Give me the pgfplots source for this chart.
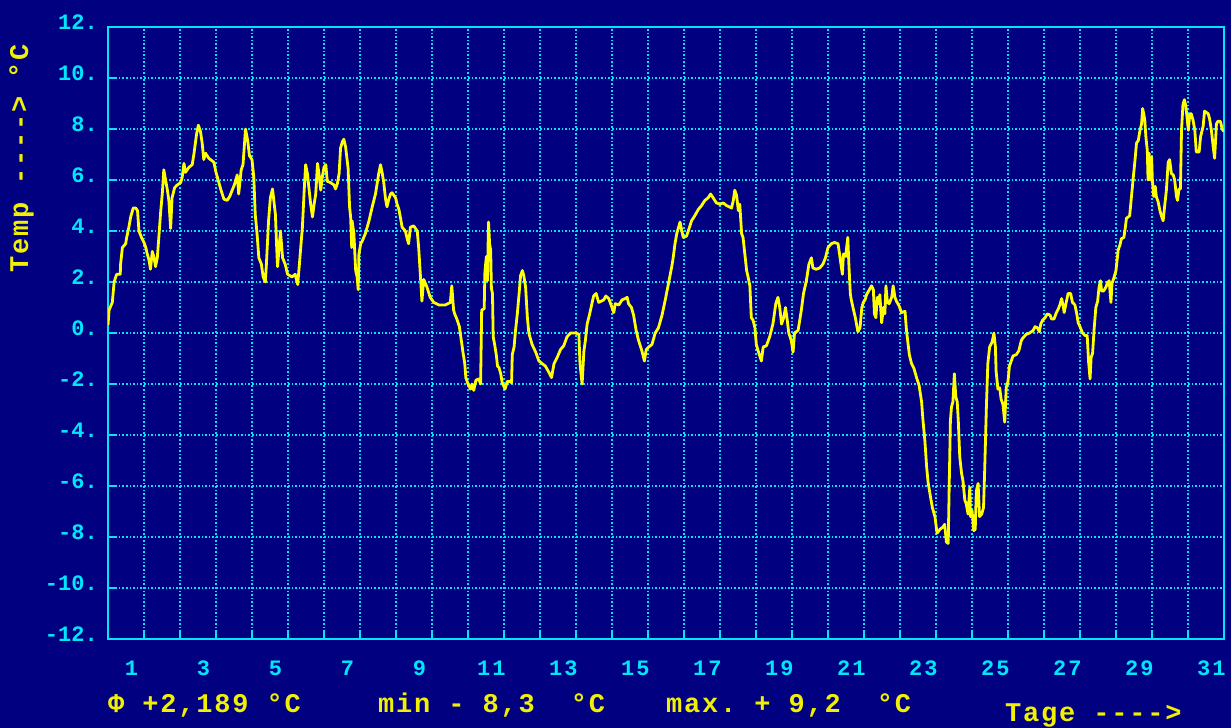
\documentclass[border=0pt]{standalone}
\usepackage{pgfplots}
\pgfplotsset{compat=1.18}
\usepackage{fontspec}
\newfontfamily\cfont{Liberation Mono}
\newfontfamily\cxfont[LetterSpace=10]{Liberation Mono}
\newfontfamily\yfont[LetterSpace=6.7]{Liberation Mono}
\definecolor{bg}{RGB}{0,0,128}
\definecolor{cy}{RGB}{0,230,255}
\definecolor{yl}{RGB}{255,255,0}
\definecolor{ytext}{RGB}{240,240,0}
\newcommand{\gap}{\hspace*{18bp}}
\begin{document}
\begin{tikzpicture}
\useasboundingbox (0,0) rectangle (1231bp,728bp);
\fill[bg] (0,0) rectangle (1231bp,728bp);
\begin{axis}[
  at={(108bp,89bp)}, anchor=south west,
  scale only axis, width=1116bp, height=612bp,
  xmin=0, xmax=31, ymin=-12, ymax=12,
  axis line style={draw=cy, line width=2bp},
  xtick={1,2,3,4,5,6,7,8,9,10,11,12,13,14,15,16,17,18,19,20,21,22,23,24,25,26,27,28,29,30},
  xticklabels={},
  extra x ticks={0.65,2.65,4.65,6.65,8.65,10.65,12.65,14.65,16.65,18.65,20.65,22.65,24.65,26.65,28.65,30.65},
  extra x tick labels={1,3,5,7,9,11,13,15,17,19,21,23,25,27,29,31},
  extra x tick style={grid=none, major tick length=0pt},
  ytick={-12,-10,-8,-6,-4,-2,0,2,4,6,8,10,12},
  yticklabels={-12.,-10.,-8.,-6.,-4.,-2.,0.,2.,4.,6.,8.,10.,12.},
  xtick pos=bottom, ytick pos=left,
  tick align=inside, major tick length=8bp,
  tick style={draw=cy, line width=2bp},
  grid=major,
  major grid style={draw=cy, line width=1.5bp, dash pattern=on 1.5bp off 2.1bp},
  xticklabel style={font=\cxfont\bfseries\fontsize{22bp}{26bp}\selectfont, text=cy, anchor=center, inner sep=0pt, yshift=-29bp},
  yticklabel style={font=\cfont\bfseries\fontsize{22bp}{26bp}\selectfont, text=cy, anchor=east, inner sep=0pt, xshift=-10bp, yshift=5bp},
]
\addplot[draw=yl, line width=2.8bp, line join=round, mark=none] table {
0.00 0.3
0.03 0.9
0.12 1.2
0.17 2.0
0.24 2.3
0.34 2.3
0.35 2.7
0.40 3.35
0.49 3.5
0.52 3.75
0.58 4.15
0.63 4.55
0.70 4.9
0.77 4.9
0.82 4.8
0.84 4.4
0.86 4.0
0.93 3.75
1.00 3.55
1.05 3.35
1.09 3.1
1.14 2.85
1.18 2.5
1.23 3.2
1.28 2.95
1.32 2.6
1.37 2.95
1.42 3.9
1.46 4.7
1.51 5.5
1.55 6.4
1.60 6.0
1.65 5.6
1.69 5.2
1.74 4.1
1.78 5.3
1.85 5.7
1.92 5.8
2.02 5.9
2.06 6.1
2.11 6.65
2.15 6.3
2.25 6.5
2.34 6.6
2.39 7.05
2.46 7.8
2.51 8.15
2.57 7.9
2.62 7.4
2.66 6.8
2.71 7.05
2.80 6.85
2.94 6.7
3.00 6.3
3.08 5.9
3.14 5.6
3.22 5.25
3.31 5.2
3.38 5.35
3.45 5.6
3.52 5.85
3.59 6.2
3.63 5.45
3.70 6.4
3.75 6.6
3.82 8.0
3.88 7.55
3.93 6.95
4.00 6.8
4.05 6.1
4.09 4.65
4.14 3.9
4.19 2.95
4.26 2.7
4.31 2.2
4.37 2.0
4.40 2.7
4.46 4.4
4.51 5.3
4.57 5.65
4.65 4.65
4.69 3.2
4.71 2.6
4.79 4.0
4.85 2.95
4.92 2.7
4.99 2.3
5.11 2.2
5.20 2.3
5.27 1.9
5.34 3.1
5.40 4.15
5.45 5.6
5.49 6.6
5.54 6.25
5.58 5.7
5.63 5.05
5.68 4.55
5.72 5.0
5.77 5.45
5.82 6.65
5.86 6.25
5.91 5.6
5.95 6.1
6.00 6.5
6.05 6.6
6.09 5.95
6.18 5.9
6.28 5.8
6.32 5.65
6.37 5.85
6.42 6.25
6.46 7.25
6.51 7.5
6.55 7.6
6.60 7.3
6.67 6.45
6.71 4.95
6.74 4.55
6.77 3.35
6.78 4.4
6.83 3.9
6.88 2.45
6.92 2.2
6.95 1.7
6.97 3.1
7.02 3.5
7.06 3.6
7.15 3.9
7.25 4.4
7.34 4.95
7.43 5.45
7.52 6.25
7.57 6.6
7.62 6.25
7.66 5.9
7.71 5.25
7.75 4.95
7.80 5.25
7.85 5.45
7.89 5.5
7.99 5.3
8.03 5.05
8.08 4.85
8.12 4.55
8.17 4.15
8.26 4.0
8.31 3.7
8.35 3.5
8.40 4.15
8.49 4.2
8.59 4.0
8.63 3.35
8.68 2.2
8.72 1.25
8.77 2.1
8.86 1.8
8.95 1.4
9.05 1.2
9.19 1.1
9.37 1.1
9.51 1.2
9.55 1.85
9.60 0.9
9.63 0.75
9.69 0.55
9.76 0.25
9.81 -0.25
9.86 -0.75
9.91 -1.2
9.94 -1.75
10.00 -2.0
10.07 -2.2
10.11 -2.0
10.16 -2.25
10.22 -1.85
10.30 -1.8
10.35 -2.0
10.38 0.9
10.45 0.95
10.47 2.4
10.51 3.0
10.54 2.05
10.57 4.35
10.60 3.5
10.63 3.25
10.65 1.75
10.68 1.55
10.70 -0.15
10.74 -0.45
10.79 -0.9
10.82 -1.3
10.86 -1.35
10.91 -1.6
10.95 -1.95
11.03 -2.2
11.09 -1.9
11.17 -1.9
11.21 -1.95
11.23 -0.85
11.28 -0.55
11.32 0.1
11.37 0.75
11.42 1.55
11.46 2.25
11.51 2.45
11.55 2.25
11.60 1.8
11.65 0.6
11.69 0.0
11.78 -0.45
11.88 -0.75
11.97 -1.1
12.06 -1.2
12.15 -1.3
12.25 -1.55
12.32 -1.75
12.39 -1.2
12.48 -0.95
12.57 -0.65
12.66 -0.5
12.75 -0.15
12.85 0.0
12.99 0.0
13.08 -0.05
13.11 -1.2
13.17 -2.0
13.22 -0.7
13.26 -0.3
13.31 0.35
13.38 0.75
13.45 1.2
13.49 1.45
13.56 1.55
13.63 1.2
13.77 1.3
13.83 1.45
13.91 1.35
14.00 1.0
14.05 0.8
14.09 1.15
14.19 1.1
14.28 1.3
14.37 1.35
14.42 1.4
14.46 1.15
14.54 1.0
14.60 0.7
14.67 0.1
14.74 -0.3
14.83 -0.7
14.90 -1.1
14.95 -0.65
15.02 -0.55
15.11 -0.45
15.20 0.0
15.29 0.2
15.39 0.7
15.48 1.3
15.57 1.95
15.66 2.6
15.70 2.95
15.75 3.5
15.80 3.9
15.84 4.1
15.89 4.35
15.94 4.0
15.98 3.75
16.07 3.8
16.12 4.0
16.21 4.4
16.30 4.6
16.40 4.85
16.49 5.0
16.58 5.2
16.67 5.3
16.74 5.45
16.81 5.3
16.90 5.1
17.00 5.05
17.09 5.1
17.18 5.0
17.32 4.9
17.37 5.2
17.41 5.6
17.46 5.4
17.51 4.8
17.55 5.05
17.60 3.9
17.64 3.75
17.69 3.1
17.74 2.45
17.78 2.2
17.83 1.85
17.87 0.6
17.92 0.5
17.97 0.2
18.01 -0.45
18.06 -0.7
18.15 -1.1
18.20 -0.55
18.29 -0.5
18.38 -0.15
18.47 0.35
18.55 1.15
18.61 1.4
18.66 1.0
18.71 0.35
18.77 0.6
18.82 1.0
18.86 0.6
18.91 0.0
18.98 -0.3
19.03 -0.75
19.07 0.0
19.17 0.1
19.26 0.9
19.32 1.55
19.40 2.05
19.47 2.7
19.54 2.95
19.58 2.55
19.67 2.5
19.77 2.55
19.86 2.7
19.93 2.95
20.00 3.35
20.09 3.5
20.18 3.55
20.28 3.5
20.34 2.9
20.40 2.3
20.43 3.1
20.49 3.0
20.55 3.75
20.58 2.7
20.62 1.55
20.64 1.35
20.71 0.9
20.76 0.6
20.83 0.05
20.89 0.2
20.94 1.0
20.98 1.2
21.03 1.3
21.07 1.5
21.15 1.7
21.21 1.85
21.26 1.7
21.29 0.75
21.33 0.6
21.37 1.4
21.40 1.15
21.44 1.5
21.49 0.4
21.54 1.0
21.58 0.75
21.61 1.85
21.65 1.2
21.70 1.15
21.77 1.4
21.81 1.85
21.86 1.4
21.90 1.25
21.98 1.05
22.04 0.8
22.14 0.85
22.18 0.1
22.26 -0.85
22.32 -1.2
22.39 -1.4
22.46 -1.75
22.53 -2.05
22.60 -2.7
22.64 -3.45
22.69 -4.2
22.74 -5.25
22.78 -5.85
22.85 -6.45
22.90 -6.85
22.97 -7.2
23.03 -7.85
23.11 -7.7
23.20 -7.6
23.24 -7.5
23.29 -8.2
23.34 -8.25
23.36 -6.55
23.40 -3.45
23.43 -2.9
23.47 -2.7
23.51 -1.6
23.55 -2.5
23.59 -2.7
23.62 -3.45
23.66 -4.85
23.71 -5.5
23.75 -5.8
23.80 -6.55
23.84 -6.7
23.89 -7.1
23.94 -6.05
23.96 -7.2
24.00 -6.95
24.05 -7.75
24.09 -7.7
24.12 -6.2
24.17 -5.9
24.21 -7.2
24.27 -7.1
24.32 -6.85
24.35 -5.5
24.40 -2.9
24.44 -1.2
24.49 -0.55
24.56 -0.35
24.61 0.0
24.65 -0.55
24.67 -1.5
24.72 -2.2
24.77 -2.15
24.81 -2.6
24.86 -2.8
24.91 -3.5
24.95 -2.15
25.00 -1.9
25.04 -1.3
25.09 -1.1
25.14 -0.9
25.23 -0.85
25.30 -0.7
25.37 -0.3
25.41 -0.2
25.51 -0.05
25.60 0.0
25.70 0.1
25.75 0.25
25.82 0.2
25.87 0.05
25.91 0.35
25.96 0.5
26.03 0.6
26.09 0.75
26.17 0.7
26.21 0.55
26.28 0.55
26.33 0.75
26.40 0.95
26.44 1.1
26.49 1.35
26.54 1.0
26.56 0.8
26.61 1.15
26.67 1.55
26.74 1.55
26.79 1.2
26.86 1.1
26.91 0.75
26.95 0.4
27.00 0.25
27.07 0.0
27.14 -0.1
27.20 -0.1
27.24 -1.15
27.28 -1.8
27.31 -0.95
27.35 -0.8
27.39 0.1
27.44 1.0
27.49 1.25
27.53 1.8
27.57 2.05
27.60 1.65
27.66 1.65
27.72 1.8
27.76 1.95
27.81 2.05
27.86 1.2
27.89 1.95
27.94 2.15
28.00 2.45
28.03 2.85
28.06 3.25
28.11 3.45
28.15 3.7
28.22 3.75
28.26 4.15
28.29 4.5
28.34 4.55
28.38 4.6
28.43 5.35
28.48 6.1
28.52 6.65
28.57 7.45
28.62 7.55
28.66 7.9
28.71 8.2
28.74 8.8
28.77 8.6
28.80 8.35
28.83 7.7
28.87 7.15
28.89 6.0
28.92 7.05
28.96 6.0
28.99 6.9
29.01 6.0
29.05 5.35
29.09 5.75
29.12 5.35
29.17 5.15
29.22 4.8
29.26 4.6
29.31 4.4
29.35 4.95
29.40 5.6
29.45 6.7
29.49 6.8
29.54 6.25
29.59 6.2
29.63 6.0
29.68 5.35
29.71 5.2
29.75 5.65
29.79 5.65
29.82 7.95
29.86 8.95
29.90 9.15
29.94 8.9
29.97 8.5
30.01 7.95
30.05 8.6
30.09 8.6
30.14 8.35
30.19 7.95
30.23 7.1
30.31 7.1
30.35 7.7
30.42 8.1
30.46 8.7
30.56 8.6
30.60 8.4
30.65 7.95
30.70 7.3
30.74 6.85
30.79 8.2
30.83 8.3
30.90 8.3
30.95 8.0
30.99 7.9
};
\end{axis}
\begin{scope}[every node/.style={inner sep=0pt, text=ytext, font=\yfont\bfseries\fontsize{27bp}{32bp}\selectfont}]
\node[rotate=90, anchor=base west] at (28bp,455bp) {Temp\gap---->\gap°C};
\node[anchor=base west] at (108bp,16bp) {Φ\gap+2,189\gap°C};
\node[anchor=base west] at (378bp,16bp) {min\gap-\gap8,3\gap\gap°C};
\node[anchor=base west] at (666bp,16bp) {max.\gap+\gap9,2\gap\gap°C};
\node[anchor=base west] at (1005bp,7bp) {Tage\gap---->};
\end{scope}
\end{tikzpicture}
\end{document}
